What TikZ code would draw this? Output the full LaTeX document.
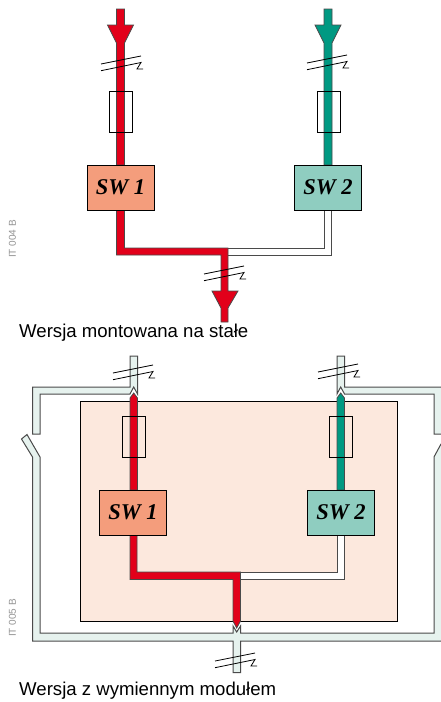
\documentclass[tikz,border=0pt]{standalone}
\usepackage{fontspec}
\setmainfont{Liberation Sans}
\newfontfamily\swfont{Liberation Serif}
\definecolor{redbar}{HTML}{E2001A}
\definecolor{greenbar}{HTML}{009982}
\definecolor{orangebox}{HTML}{F49D7C}
\definecolor{tealbox}{HTML}{8FCDC0}
\definecolor{modfill}{HTML}{FCE8DD}
\definecolor{encfill}{HTML}{E6F2EE}
\definecolor{edgegrey}{HTML}{4A4A4A}
\newcommand{\swlabel}[1]{\raisebox{-1.5pt}{#1}}
\tikzset{
  swbox/.style={draw=black,line width=0.8pt,minimum width=67pt,minimum height=45pt,inner sep=0pt,font=\swfont\bfseries\itshape\fontsize{22.5}{22.5}\selectfont},
  fusebox/.style={draw=black,line width=0.7pt,minimum width=23pt,minimum height=41pt,inner sep=0pt},
  barred/.style={draw=edgegrey,line width=0.8pt,fill=redbar},
  bargreen/.style={draw=edgegrey,line width=0.8pt,fill=greenbar},
  barwhite/.style={draw=edgegrey,line width=1pt,fill=white},
  enclosure/.style={draw=edgegrey,line width=1pt,fill=encfill},
  tick/.style={draw=black,line width=0.8pt},
  caption/.style={anchor=base west,inner sep=0pt,font=\fontsize{18.6}{20}\selectfont},
  code/.style={anchor=base west,inner sep=0pt,rotate=90,text=gray!85,font=\fontsize{10}{11}\selectfont}
}
\newcommand{\breakmark}[2]{%
  \draw[tick] (#1+101,#2+64) -- (#1+141,#2+56);
  \draw[tick,line join=miter] (#1+101,#2+70.7) -- (#1+141,#2+62.5) -- (#1+137,#2+69) -- (#1+143,#2+69);
}
\newcommand{\inarrow}[2]{% x = bar centre, colour style
  \draw[#2] (#1-4,9) -- (#1+4,9) -- (#1+4,25) -- (#1+13,25) -- (#1+4,43) -- (#1+4,165) -- (#1-4,165) -- (#1-4,43) -- (#1-13,25) -- (#1-4,25) -- cycle;
}
\begin{document}
\begin{tikzpicture}[x=1pt,y=-1pt]
\useasboundingbox (0,0) rectangle (441,702);
\begin{scope}
\clip (0,0) rectangle (441,702);
% ---- upper diagram
\draw[barwhite] (224.5,248.5) -- (324.5,248.5) -- (324.5,209) -- (331.5,209) -- (331.5,255) -- (224.5,255) -- cycle;
\inarrow{120.5}{barred}
\inarrow{328}{bargreen}
\draw[barred] (116.5,209) -- (124.5,209) -- (124.5,248) -- (228,248) -- (228,291) -- (238,291) -- (228,308) -- (228,322) -- (221,322) -- (221,308) -- (212,291) -- (221,291) -- (221,255) -- (116.5,255) -- cycle;
\node[swbox,fill=orangebox] (sw1a) at (120.5,187.5) {\swlabel{SW 1}};
\node[swbox,fill=tealbox] (sw2a) at (328,187.5) {\swlabel{SW 2}};
\node[fusebox] (f1a) at (120.5,111.5) {};
\node[fusebox] (f2a) at (328.5,111.5) {};
\breakmark{0}{0}
\breakmark{206}{-1}
\breakmark{103}{210}
\node[caption] (capa) at (19,337) {Wersja montowana na stałe};
\node[code] (codea) at (16,258) {IT 004 B};
% ---- lower diagram: module
\node[draw=black,line width=0.7pt,fill=modfill,minimum width=317pt,minimum height=220pt,inner sep=0pt] (module) at (238.5,511) {};
% enclosure
\draw[enclosure] (40,434) -- (32.5,434) -- (32.5,387) -- (130,387) -- (130,356) -- (137.5,356) -- (137.5,394) -- (133.7,387) -- (130,394) -- (40,394) -- cycle;
\draw[enclosure] (337,356) -- (344.5,356) -- (344.5,387) -- (446,387) -- (446,434) -- (434,434) -- (434,394) -- (344.5,394) -- (340.7,387) -- (337,394) -- cycle;
\draw[enclosure] (21.5,439) -- (27,434.5) -- (40,457) -- (40,633) -- (233,633) -- (233,626) -- (236.7,632) -- (240.5,626) -- (240.5,633) -- (434,633) -- (434,457) -- (441,444) -- (446,444) -- (446,641) -- (240.5,641) -- (240.5,672.5) -- (233,672.5) -- (233,641) -- (32.5,641) -- (32.5,457) -- cycle;
\draw[barwhite] (237,572) -- (337,572) -- (337,535) -- (344.5,535) -- (344.5,579.5) -- (237,579.5) -- cycle;
\draw[barred] (130,490) -- (130,398) -- (133.7,393) -- (137.5,398) -- (137.5,490) -- cycle;
\draw[bargreen] (337,490) -- (337,398) -- (340.7,393) -- (344.5,398) -- (344.5,490) -- cycle;
\draw[barred] (130,535) -- (137,535) -- (137,572) -- (240.5,572) -- (240.5,621) -- (236.7,628) -- (233,621) -- (233,579.5) -- (130,579.5) -- cycle;
\node[swbox,fill=orangebox] (sw1b) at (133,512.5) {\swlabel{SW 1}};
\node[swbox,fill=tealbox] (sw2b) at (341,512.5) {\swlabel{SW 2}};
\node[fusebox] (f1b) at (133.5,436.5) {};
\node[fusebox] (f2b) at (341,436.5) {};
\breakmark{12}{309}
\breakmark{217}{308}
\breakmark{114}{597}
\node[caption] (capb) at (19,695) {Wersja z wymiennym modułem};
\node[code] (codeb) at (16,637) {IT 005 B};
\end{scope}
\end{tikzpicture}
\end{document}
